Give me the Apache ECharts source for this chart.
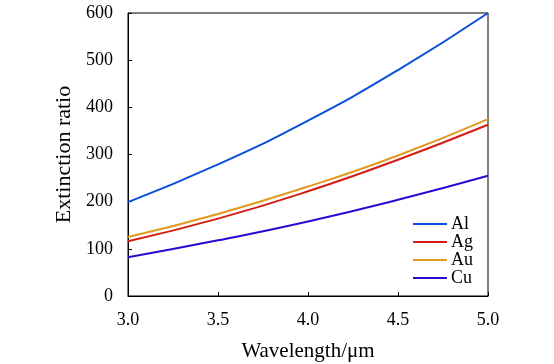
<!DOCTYPE html>
<html><head><meta charset="utf-8">
<script src="https://cdn.jsdelivr.net/npm/echarts@6/dist/echarts.min.js"></script>
<style>html,body{margin:0;padding:0;background:#fff}#c{width:554px;height:364px}</style>
</head><body><div id="c"></div>
<script>
const wavelength = [3.0, 3.5, 4.0, 4.5, 5.0];
const al = [199, 279, 372, 479, 600];
const ag = [116, 164, 222, 289, 363];
const au = [125, 174, 232, 298, 375];
const cu = [82, 118, 158, 204, 255];
const names = ['Al', 'Ag', 'Au', 'Cu'];
const colors = ['#0a50dc', '#d21e14', '#e09a1e', '#2a0ad2'];
const values = [al, ag, au, cu];
const font = '"Liberation Serif", "Times New Roman", serif';

const chart = echarts.init(document.getElementById('c'), null, {renderer: 'canvas'});
chart.setOption({
  animation: false,
  grid: {left: 128, right: 66, top: 13, bottom: 68, containLabel: false, outerBoundsMode: 'none',
         show: true, borderColor: '#000', borderWidth: 1},
  legend: {
    orient: 'vertical', left: 408, top: 210, itemWidth: 34, itemHeight: 10, itemGap: 0,
    icon: 'path://M0,4 L34,4 L34,6 L0,6 Z',
    textStyle: {fontFamily: font, fontSize: 18, lineHeight: 16, color: '#000', padding: [0, 0, 0, -1]},
    data: names
  },
  xAxis: {
    type: 'value', min: 3.0, max: 5.0, interval: 0.5,
    name: 'Wavelength/μm', nameLocation: 'middle', nameGap: 45,
    nameTextStyle: {fontFamily: font, fontSize: 21, color: '#000'},
    axisLine: {lineStyle: {color: '#000', width: 1}},
    axisTick: {inside: true, length: 4, lineStyle: {color: '#000'}},
    axisLabel: {fontFamily: font, fontSize: 18, color: '#000', margin: 15, formatter: v => v.toFixed(1)},
    splitLine: {show: false}
  },
  yAxis: {
    type: 'value', min: 0, max: 600, interval: 100,
    name: 'Extinction ratio', nameLocation: 'middle', nameGap: 53,
    nameTextStyle: {fontFamily: font, fontSize: 22, color: '#000'},
    axisLine: {show: true, lineStyle: {color: '#000', width: 1}},
    axisTick: {show: true, inside: true, length: 4, lineStyle: {color: '#000'}},
    axisLabel: {fontFamily: font, fontSize: 18, color: '#000', margin: 15},
    splitLine: {show: false}
  },
  series: names.map((n, i) => ({
    name: n, type: 'line', smooth: true, symbol: 'none',
    lineStyle: {color: colors[i], width: 2}, itemStyle: {color: colors[i]},
    data: wavelength.map((x, j) => [x, values[i][j]])
  }))
});
</script></body></html>
